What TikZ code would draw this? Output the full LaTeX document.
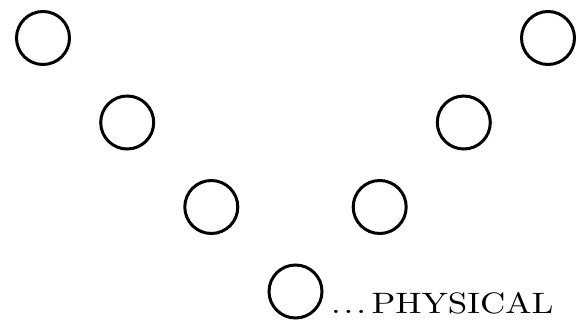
\documentclass[tikz,border=0pt]{standalone}
\usepackage{tikz}
\usepackage{graphicx}

\tikzset{
  ring/.style={circle, draw=black, line width=3pt, inner sep=0pt,
               minimum size=53pt},
  levellabel/.style={anchor=base west, inner sep=0pt, font=\normalsize}
}

\begin{document}
\begin{tikzpicture}[x=1pt, y=1pt]
  \useasboundingbox (0,0) rectangle (578,324);
  % left arm
  \node[ring] (l1) at (43,286) {};
  \node[ring] (l2) at (127.2,201.5) {};
  \node[ring] (l3) at (211.3,117) {};
  % bottom
  \node[ring] (bot) at (295.5,32.5) {};
  % right arm
  \node[ring] (r3) at (379.7,117) {};
  \node[ring] (r2) at (463.8,201.5) {};
  \node[ring] (r1) at (548,286) {};
  \node[levellabel] (phys) at (331,11)
    {\scalebox{3.5}[2.95]{.\kern0.8pt.\kern0.8pt.\kern1.6pt PHYSICAL}};
\end{tikzpicture}
\end{document}
